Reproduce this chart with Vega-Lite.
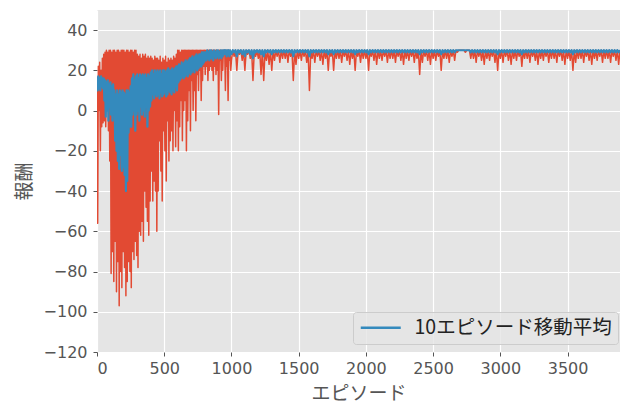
{
"$schema": "https://vega.github.io/schema/vega-lite/v6.json",
"autosize": "none",
"padding": {"left": 97, "top": 10, "right": 0, "bottom": 53},
"width": 523,
"height": 342,
"background": "white",
"config": {"view": {"fill": "#E5E5E5", "stroke": null}},
"data": {"values": [
{"e":0,"r":15,"m":17},{"e":5,"r":-56,"m":10},{"e":10,"r":22,"m":17},{"e":15,"r":0,"m":11},{"e":20,"r":24,"m":16},{"e":25,"r":-20,"m":10},{"e":30,"r":20,"m":17},{"e":35,"r":-8,"m":12},{"e":40,"r":26,"m":16},{"e":45,"r":-6,"m":11},
{"e":50,"r":28,"m":16},{"e":55,"r":-5,"m":5},{"e":60,"r":29,"m":15},{"e":65,"r":-8,"m":-3},{"e":70,"r":30,"m":14},{"e":75,"r":5,"m":0},{"e":80,"r":29,"m":15},{"e":85,"r":-10,"m":-5},{"e":90,"r":30,"m":13},{"e":95,"r":-25,"m":2},
{"e":100,"r":30,"m":14},{"e":105,"r":-81,"m":-2},{"e":110,"r":29,"m":12},{"e":115,"r":-70,"m":-5},{"e":120,"r":30,"m":13},{"e":125,"r":-85,"m":0},{"e":130,"r":30,"m":10},{"e":135,"r":-65,"m":-15},{"e":140,"r":29,"m":8},{"e":145,"r":-90,"m":-20},
{"e":150,"r":30,"m":10},{"e":155,"r":-75,"m":-25},{"e":160,"r":30,"m":8},{"e":165,"r":-97,"m":-29},{"e":170,"r":29,"m":10},{"e":175,"r":-80,"m":-22},{"e":180,"r":30,"m":9},{"e":185,"r":-88,"m":-30},{"e":190,"r":30,"m":10},{"e":195,"r":-70,"m":-28},
{"e":200,"r":30,"m":9},{"e":205,"r":-78,"m":-32},{"e":210,"r":29,"m":8},{"e":215,"r":-92,"m":-40},{"e":220,"r":30,"m":10},{"e":225,"r":-85,"m":-35},{"e":230,"r":30,"m":10},{"e":235,"r":-75,"m":-11},{"e":240,"r":29,"m":9},{"e":245,"r":-80,"m":-8},
{"e":250,"r":30,"m":12},{"e":255,"r":-88,"m":-8},{"e":260,"r":30,"m":16},{"e":265,"r":-70,"m":-2},{"e":270,"r":29,"m":18},{"e":275,"r":-74,"m":0},{"e":280,"r":30,"m":15},{"e":285,"r":-65,"m":-10},{"e":290,"r":30,"m":17},{"e":295,"r":-72,"m":-2},
{"e":300,"r":28,"m":18},{"e":305,"r":-78,"m":0},{"e":310,"r":27,"m":16},{"e":315,"r":-60,"m":-5},{"e":320,"r":28,"m":18},{"e":325,"r":-62,"m":2},{"e":330,"r":26,"m":17},{"e":335,"r":-55,"m":-2},{"e":340,"r":28,"m":18},{"e":345,"r":-65,"m":0},
{"e":350,"r":27,"m":17},{"e":355,"r":-40,"m":-3},{"e":360,"r":28,"m":18},{"e":365,"r":-48,"m":2},{"e":370,"r":26,"m":16},{"e":375,"r":-55,"m":-8},{"e":380,"r":27,"m":18},{"e":385,"r":-62,"m":0},{"e":390,"r":26,"m":17},{"e":395,"r":-45,"m":2},
{"e":400,"r":27,"m":19},{"e":405,"r":-30,"m":5},{"e":410,"r":26,"m":20},{"e":415,"r":-45,"m":8},{"e":420,"r":25,"m":18},{"e":425,"r":-35,"m":6},{"e":430,"r":27,"m":20},{"e":435,"r":-40,"m":8},{"e":440,"r":26,"m":19},{"e":445,"r":-60,"m":7},
{"e":450,"r":26,"m":20},{"e":455,"r":-40,"m":8},{"e":460,"r":25,"m":19},{"e":465,"r":-15,"m":6},{"e":470,"r":27,"m":20},{"e":475,"r":-30,"m":9},{"e":480,"r":24,"m":18},{"e":485,"r":-45,"m":7},{"e":490,"r":26,"m":20},{"e":495,"r":-10,"m":8},
{"e":500,"r":25,"m":20},{"e":505,"r":-20,"m":9},{"e":510,"r":27,"m":19},{"e":515,"r":-35,"m":7},{"e":520,"r":24,"m":20},{"e":525,"r":-5,"m":8},{"e":530,"r":26,"m":21},{"e":535,"r":-25,"m":10},{"e":540,"r":25,"m":20},{"e":545,"r":-15,"m":9},
{"e":550,"r":26,"m":20},{"e":555,"r":-10,"m":8},{"e":560,"r":25,"m":21},{"e":565,"r":-20,"m":10},{"e":570,"r":27,"m":20},{"e":575,"r":0,"m":9},{"e":580,"r":26,"m":21},{"e":585,"r":-18,"m":12},{"e":590,"r":28,"m":22},{"e":595,"r":-5,"m":10},
{"e":600,"r":30,"m":22},{"e":605,"r":-20,"m":14},{"e":610,"r":30,"m":23},{"e":615,"r":-8,"m":15},{"e":620,"r":29,"m":22},{"e":625,"r":5,"m":16},{"e":630,"r":30,"m":24},{"e":635,"r":-15,"m":17},{"e":640,"r":30,"m":23},{"e":645,"r":0,"m":16},
{"e":650,"r":30,"m":24},{"e":655,"r":5,"m":17},{"e":660,"r":30,"m":25},{"e":665,"r":-20,"m":18},{"e":670,"r":30,"m":24},{"e":675,"r":-5,"m":17},{"e":680,"r":30,"m":25},{"e":685,"r":10,"m":19},{"e":690,"r":30,"m":26},{"e":695,"r":-10,"m":18},
{"e":700,"r":30,"m":26},{"e":705,"r":15,"m":19},{"e":710,"r":30,"m":27},{"e":715,"r":0,"m":20},{"e":720,"r":30,"m":26},{"e":725,"r":10,"m":19},{"e":730,"r":30,"m":27},{"e":735,"r":-5,"m":21},{"e":740,"r":30,"m":28},{"e":745,"r":18,"m":20},
{"e":750,"r":30,"m":27},{"e":755,"r":10,"m":21},{"e":760,"r":30,"m":28},{"e":765,"r":20,"m":22},{"e":770,"r":30,"m":28},{"e":775,"r":5,"m":22},{"e":780,"r":30,"m":29},{"e":785,"r":15,"m":23},{"e":790,"r":30,"m":29},{"e":795,"r":22,"m":24},
{"e":800,"r":30,"m":29},{"e":805,"r":18,"m":25},{"e":810,"r":30,"m":29},{"e":815,"r":22,"m":25},{"e":820,"r":30,"m":30},{"e":825,"r":15,"m":26},{"e":830,"r":30,"m":29},{"e":835,"r":20,"m":25},{"e":840,"r":30,"m":30},{"e":845,"r":22,"m":26},
{"e":850,"r":30,"m":30},{"e":855,"r":20,"m":26},{"e":860,"r":30,"m":29},{"e":865,"r":15,"m":25},{"e":870,"r":30,"m":30},{"e":875,"r":22,"m":27},{"e":880,"r":30,"m":29},{"e":885,"r":18,"m":26},{"e":890,"r":30,"m":30},{"e":895,"r":20,"m":27},
{"e":900,"r":30,"m":30},{"e":905,"r":-2,"m":26},{"e":910,"r":30,"m":29},{"e":915,"r":25,"m":27},{"e":920,"r":30,"m":30},{"e":925,"r":15,"m":26},{"e":930,"r":30,"m":30},{"e":935,"r":20,"m":27},{"e":940,"r":30,"m":30},{"e":945,"r":28,"m":28},
{"e":950,"r":30,"m":30},{"e":955,"r":10,"m":28},{"e":960,"r":30,"m":30},{"e":965,"r":22,"m":27},{"e":970,"r":30,"m":30},{"e":975,"r":5,"m":28},{"e":980,"r":30,"m":30},{"e":985,"r":25,"m":27},{"e":990,"r":30,"m":30},{"e":995,"r":20,"m":28},
{"e":1000,"r":25,"m":28},{"e":1010,"r":30,"m":30},{"e":1020,"r":27,"m":29},{"e":1030,"r":30,"m":30},{"e":1040,"r":20,"m":27},{"e":1050,"r":30,"m":30},{"e":1060,"r":28,"m":29},{"e":1070,"r":30,"m":30},{"e":1080,"r":25,"m":28},{"e":1090,"r":30,"m":30},
{"e":1100,"r":20,"m":27},{"e":1110,"r":30,"m":30},{"e":1120,"r":28,"m":29},{"e":1130,"r":30,"m":30},{"e":1140,"r":26,"m":28},{"e":1150,"r":30,"m":30},{"e":1160,"r":15,"m":26},{"e":1170,"r":30,"m":30},{"e":1180,"r":27,"m":29},{"e":1190,"r":30,"m":30},
{"e":1200,"r":26,"m":29},{"e":1210,"r":30,"m":30},{"e":1220,"r":18,"m":28},{"e":1230,"r":30,"m":30},{"e":1240,"r":15,"m":27},{"e":1250,"r":30,"m":30},{"e":1260,"r":25,"m":29},{"e":1270,"r":30,"m":30},{"e":1280,"r":23,"m":29},{"e":1290,"r":30,"m":30},
{"e":1300,"r":20,"m":28},{"e":1310,"r":30,"m":30},{"e":1320,"r":25,"m":29},{"e":1330,"r":30,"m":30},{"e":1340,"r":27,"m":29},{"e":1350,"r":30,"m":30},{"e":1360,"r":24,"m":29},{"e":1370,"r":30,"m":30},{"e":1380,"r":26,"m":29},{"e":1390,"r":30,"m":30},
{"e":1400,"r":26,"m":29},{"e":1410,"r":30,"m":30},{"e":1420,"r":24,"m":29},{"e":1430,"r":30,"m":30},{"e":1440,"r":27,"m":29},{"e":1450,"r":30,"m":30},{"e":1460,"r":15,"m":27},{"e":1470,"r":30,"m":30},{"e":1480,"r":23,"m":29},{"e":1490,"r":30,"m":30},
{"e":1500,"r":26,"m":29},{"e":1510,"r":30,"m":30},{"e":1520,"r":25,"m":29},{"e":1530,"r":30,"m":30},{"e":1540,"r":27,"m":29},{"e":1550,"r":30,"m":30},{"e":1560,"r":24,"m":29},{"e":1570,"r":30,"m":30},{"e":1580,"r":10,"m":27},{"e":1590,"r":30,"m":30},
{"e":1600,"r":26,"m":29},{"e":1610,"r":30,"m":30},{"e":1620,"r":24,"m":29},{"e":1630,"r":30,"m":30},{"e":1640,"r":27,"m":29},{"e":1650,"r":30,"m":30},{"e":1660,"r":25,"m":29},{"e":1670,"r":30,"m":30},{"e":1680,"r":23,"m":29},{"e":1690,"r":30,"m":30},
{"e":1700,"r":26,"m":29},{"e":1710,"r":30,"m":30},{"e":1720,"r":20,"m":28},{"e":1730,"r":30,"m":30},{"e":1740,"r":27,"m":29},{"e":1750,"r":30,"m":30},{"e":1760,"r":20,"m":28},{"e":1770,"r":30,"m":30},{"e":1780,"r":26,"m":29},{"e":1790,"r":30,"m":30},
{"e":1800,"r":26,"m":29},{"e":1810,"r":30,"m":30},{"e":1820,"r":24,"m":29},{"e":1830,"r":30,"m":30},{"e":1840,"r":27,"m":29},{"e":1850,"r":30,"m":30},{"e":1860,"r":25,"m":29},{"e":1870,"r":30,"m":30},{"e":1880,"r":23,"m":29},{"e":1890,"r":30,"m":30},
{"e":1900,"r":26,"m":29},{"e":1910,"r":30,"m":30},{"e":1920,"r":20,"m":28},{"e":1930,"r":30,"m":30},{"e":1940,"r":27,"m":29},{"e":1950,"r":30,"m":30},{"e":1960,"r":24,"m":29},{"e":1970,"r":30,"m":30},{"e":1980,"r":26,"m":29},{"e":1990,"r":30,"m":30},
{"e":2000,"r":26,"m":29},{"e":2010,"r":30,"m":30},{"e":2020,"r":20,"m":28},{"e":2030,"r":30,"m":30},{"e":2040,"r":27,"m":29},{"e":2050,"r":30,"m":30},{"e":2060,"r":25,"m":29},{"e":2070,"r":30,"m":30},{"e":2080,"r":23,"m":29},{"e":2090,"r":30,"m":30},
{"e":2100,"r":26,"m":29},{"e":2110,"r":30,"m":30},{"e":2120,"r":25,"m":29},{"e":2130,"r":30,"m":30},{"e":2140,"r":27,"m":29},{"e":2150,"r":30,"m":30},{"e":2160,"r":24,"m":29},{"e":2170,"r":30,"m":30},{"e":2180,"r":26,"m":29},{"e":2190,"r":30,"m":30},
{"e":2200,"r":26,"m":29},{"e":2210,"r":30,"m":30},{"e":2220,"r":24,"m":29},{"e":2230,"r":30,"m":30},{"e":2240,"r":27,"m":29},{"e":2250,"r":30,"m":30},{"e":2260,"r":25,"m":29},{"e":2270,"r":30,"m":30},{"e":2280,"r":23,"m":29},{"e":2290,"r":30,"m":30},
{"e":2300,"r":26,"m":29},{"e":2310,"r":30,"m":30},{"e":2320,"r":25,"m":29},{"e":2330,"r":30,"m":30},{"e":2340,"r":27,"m":29},{"e":2350,"r":30,"m":30},{"e":2360,"r":24,"m":29},{"e":2370,"r":30,"m":30},{"e":2380,"r":26,"m":29},{"e":2390,"r":30,"m":30},
{"e":2400,"r":18,"m":28},{"e":2410,"r":30,"m":30},{"e":2420,"r":24,"m":29},{"e":2430,"r":30,"m":30},{"e":2440,"r":27,"m":29},{"e":2450,"r":30,"m":30},{"e":2460,"r":25,"m":29},{"e":2470,"r":30,"m":30},{"e":2480,"r":23,"m":29},{"e":2490,"r":30,"m":30},
{"e":2500,"r":26,"m":29},{"e":2510,"r":30,"m":30},{"e":2520,"r":25,"m":29},{"e":2530,"r":30,"m":30},{"e":2540,"r":27,"m":29},{"e":2550,"r":30,"m":30},{"e":2560,"r":20,"m":28},{"e":2570,"r":30,"m":30},{"e":2580,"r":26,"m":29},{"e":2590,"r":30,"m":30},
{"e":2600,"r":26,"m":29},{"e":2610,"r":30,"m":30},{"e":2620,"r":24,"m":29},{"e":2630,"r":30,"m":30},{"e":2640,"r":27,"m":29},{"e":2650,"r":30,"m":30},{"e":2660,"r":25,"m":29},{"e":2670,"r":30,"m":30},{"e":2680,"r":29,"m":30},{"e":2690,"r":30,"m":30},
{"e":2700,"r":30,"m":30},{"e":2710,"r":30,"m":30},{"e":2720,"r":30,"m":30},{"e":2730,"r":30,"m":30},{"e":2740,"r":29,"m":30},{"e":2750,"r":30,"m":30},{"e":2760,"r":30,"m":30},{"e":2770,"r":30,"m":30},{"e":2780,"r":26,"m":29},{"e":2790,"r":30,"m":30},
{"e":2800,"r":26,"m":29},{"e":2810,"r":30,"m":30},{"e":2820,"r":24,"m":29},{"e":2830,"r":30,"m":30},{"e":2840,"r":27,"m":29},{"e":2850,"r":30,"m":30},{"e":2860,"r":25,"m":29},{"e":2870,"r":30,"m":30},{"e":2880,"r":23,"m":29},{"e":2890,"r":30,"m":30},
{"e":2900,"r":26,"m":29},{"e":2910,"r":30,"m":30},{"e":2920,"r":25,"m":29},{"e":2930,"r":30,"m":30},{"e":2940,"r":27,"m":29},{"e":2950,"r":30,"m":30},{"e":2960,"r":24,"m":29},{"e":2970,"r":30,"m":30},{"e":2980,"r":20,"m":28},{"e":2990,"r":30,"m":30},
{"e":3000,"r":26,"m":29},{"e":3010,"r":30,"m":30},{"e":3020,"r":24,"m":29},{"e":3030,"r":30,"m":30},{"e":3040,"r":27,"m":29},{"e":3050,"r":30,"m":30},{"e":3060,"r":25,"m":29},{"e":3070,"r":30,"m":30},{"e":3080,"r":23,"m":29},{"e":3090,"r":30,"m":30},
{"e":3100,"r":26,"m":29},{"e":3110,"r":30,"m":30},{"e":3120,"r":25,"m":29},{"e":3130,"r":30,"m":30},{"e":3140,"r":27,"m":29},{"e":3150,"r":30,"m":30},{"e":3160,"r":22,"m":28},{"e":3170,"r":30,"m":30},{"e":3180,"r":26,"m":29},{"e":3190,"r":30,"m":30},
{"e":3200,"r":26,"m":29},{"e":3210,"r":30,"m":30},{"e":3220,"r":24,"m":29},{"e":3230,"r":30,"m":30},{"e":3240,"r":27,"m":29},{"e":3250,"r":30,"m":30},{"e":3260,"r":25,"m":29},{"e":3270,"r":30,"m":30},{"e":3280,"r":23,"m":29},{"e":3290,"r":30,"m":30},
{"e":3300,"r":26,"m":29},{"e":3310,"r":30,"m":30},{"e":3320,"r":25,"m":29},{"e":3330,"r":30,"m":30},{"e":3340,"r":27,"m":29},{"e":3350,"r":30,"m":30},{"e":3360,"r":24,"m":29},{"e":3370,"r":30,"m":30},{"e":3380,"r":26,"m":29},{"e":3390,"r":30,"m":30},
{"e":3400,"r":26,"m":29},{"e":3410,"r":30,"m":30},{"e":3420,"r":24,"m":29},{"e":3430,"r":30,"m":30},{"e":3440,"r":27,"m":29},{"e":3450,"r":30,"m":30},{"e":3460,"r":25,"m":29},{"e":3470,"r":30,"m":30},{"e":3480,"r":23,"m":29},{"e":3490,"r":30,"m":30},
{"e":3500,"r":26,"m":29},{"e":3510,"r":30,"m":30},{"e":3520,"r":25,"m":29},{"e":3530,"r":30,"m":30},{"e":3540,"r":20,"m":28},{"e":3550,"r":30,"m":30},{"e":3560,"r":24,"m":29},{"e":3570,"r":30,"m":30},{"e":3580,"r":26,"m":29},{"e":3590,"r":30,"m":30},
{"e":3600,"r":26,"m":29},{"e":3610,"r":30,"m":30},{"e":3620,"r":24,"m":29},{"e":3630,"r":30,"m":30},{"e":3640,"r":27,"m":29},{"e":3650,"r":30,"m":30},{"e":3660,"r":25,"m":29},{"e":3670,"r":30,"m":30},{"e":3680,"r":23,"m":29},{"e":3690,"r":30,"m":30},
{"e":3700,"r":26,"m":29},{"e":3710,"r":30,"m":30},{"e":3720,"r":25,"m":29},{"e":3730,"r":30,"m":30},{"e":3740,"r":27,"m":29},{"e":3750,"r":30,"m":30},{"e":3760,"r":24,"m":29},{"e":3770,"r":30,"m":30},{"e":3780,"r":26,"m":29},{"e":3790,"r":30,"m":30},
{"e":3800,"r":26,"m":29},{"e":3810,"r":30,"m":30},{"e":3820,"r":24,"m":29},{"e":3830,"r":30,"m":30},{"e":3840,"r":27,"m":29},{"e":3850,"r":30,"m":30},{"e":3860,"r":25,"m":29},{"e":3870,"r":30,"m":30},{"e":3880,"r":23,"m":29},{"e":3890,"r":30,"m":30}
]},
"layer": [
{
"mark": {"type": "line", "color": "#E24A33", "strokeWidth": 1.5, "strokeJoin": "round", "clip": true},
"encoding": {
"x": {"field": "e", "type": "quantitative",
"scale": {"domain": [0, 3890], "nice": false, "zero": false},
"axis": {"values": [0, 500, 1000, 1500, 2000, 2500, 3000, 3500], "format": "d", "title": "エピソード",
"domain": false, "grid": true, "gridColor": "white", "gridWidth": 1.2,
"tickColor": "#555555", "tickSize": 4, "tickWidth": 1,
"labelFont": "DejaVu Sans", "labelFontSize": 16, "labelColor": "#555555", "labelPadding": 4,
"titleFont": "Noto Sans CJK JP", "titleFontSize": 19, "titleFontWeight": "normal", "titleColor": "#555555",
"titleY": 41, "titleBaseline": "middle"}},
"y": {"field": "r", "type": "quantitative",
"scale": {"domain": [-120, 50], "nice": false, "zero": false},
"axis": {"values": [-120, -100, -80, -60, -40, -20, 0, 20, 40], "title": "報酬",
"domain": false, "grid": true, "gridColor": "white", "gridWidth": 1.2,
"tickColor": "#555555", "tickSize": 4, "tickWidth": 1,
"labelFont": "DejaVu Sans", "labelFontSize": 16, "labelColor": "#555555", "labelPadding": 6,
"titleFont": "Noto Sans CJK JP", "titleFontSize": 19, "titleFontWeight": "normal", "titleColor": "#555555",
"titleX": -73, "titleY": 171, "titleAngle": -90, "titleBaseline": "middle", "titleAlign": "center"}}
}
},
{
"mark": {"type": "line", "strokeWidth": 2.2, "strokeJoin": "round", "clip": true},
"encoding": {
"x": {"field": "e", "type": "quantitative"},
"y": {"field": "m", "type": "quantitative"},
"color": {"datum": "10エピソード移動平均", "type": "nominal",
"scale": {"range": ["#348ABD"]},
"legend": {"title": null, "orient": "none", "legendX": 256, "legendY": 302,
"symbolType": "M-2.5,0L2.5,0", "symbolSize": 256, "symbolOffset": 12, "symbolStrokeWidth": 2.5, "symbolStrokeColor": "#348ABD",
"labelFont": "Noto Sans CJK JP", "labelFontSize": 19.5, "labelColor": "#222222", "labelOffset": 24, "labelLimit": 400,
"padding": 6, "fillColor": "rgba(229,229,229,0.8)", "strokeColor": "#cccccc", "cornerRadius": 3}}
}
}
]
}
